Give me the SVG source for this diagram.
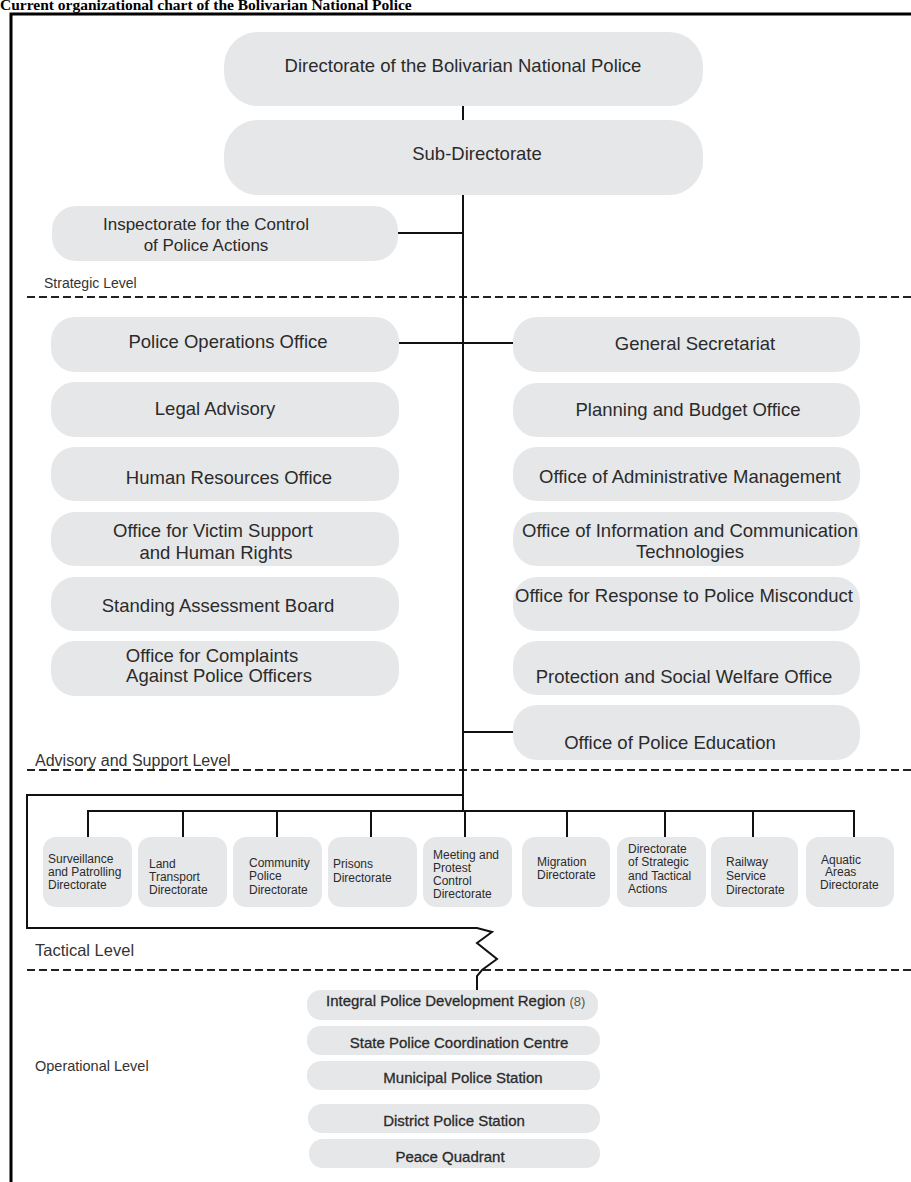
<svg xmlns="http://www.w3.org/2000/svg" width="911" height="1182" viewBox="0 0 911 1182">
<style>
.box{fill:#e6e7e9}
.t{font-family:"Liberation Sans",Arial,sans-serif;fill:#2b2b2b}
.m{font-size:18.5px;text-anchor:middle}
.s{font-size:12px}
.o{font-size:15px;text-anchor:middle;stroke:#2b2b2b;stroke-width:0.3}
.lv{font-family:"Liberation Sans",Arial,sans-serif;fill:#333}
.ln{stroke:#111;stroke-width:2;fill:none}
.dash{stroke:#222;stroke-width:2;stroke-dasharray:8 4;fill:none}
</style>
<rect width="911" height="1182" fill="#fff"/>
<text x="0" y="10" font-family="'Liberation Serif','Times New Roman',serif" font-weight="bold" font-size="15.5" fill="#000">Current organizational chart of the Bolivarian National Police</text>
<rect x="11" y="14" width="940" height="1200" fill="none" stroke="#000" stroke-width="3"/>

<g id="levels">
<text class="lv" x="44" y="288" font-size="14">Strategic Level</text>
<path class="dash" d="M27 297H911"/>
<text class="lv" x="35" y="766" font-size="16">Advisory and Support Level</text>
<path class="dash" d="M27 770H911"/>
<text class="lv" x="35" y="956" font-size="16.5" fill="#222">Tactical Level</text>
<path class="dash" d="M27 970H911"/>
<text class="lv" x="35" y="1071" font-size="14.5">Operational Level</text>
</g>

<g id="connectors">
<path class="ln" d="M463 106V120"/>
<path class="ln" d="M463 195V811"/>
<path class="ln" d="M398 233H463"/>
<path class="ln" d="M399 343H513"/>
<path class="ln" d="M463 732H513"/>
<path class="ln" d="M463 795H27V928H477L492 932L477 943L497 959L482 970L477 976V990"/>
<path class="ln" d="M88 837V811H854V837M183 811V837M277 811V837M371 811V837M465 811V837M567 811V837M665 811V837M753 811V837"/>
</g>

<g id="n-directorate"><rect class="box" x="224" y="32" width="479" height="74" rx="34"/><text class="t m" x="463" y="72">Directorate of the Bolivarian National Police</text></g>
<g id="n-subdirectorate"><rect class="box" x="224" y="120" width="479" height="75" rx="34"/><text class="t m" x="477" y="160">Sub-Directorate</text></g>
<g id="n-inspectorate"><rect class="box" x="52" y="206" width="346" height="55" rx="24"/><text class="t" x="206" y="230" font-size="17" text-anchor="middle">Inspectorate for the Control</text><text class="t" x="206" y="251" font-size="17" text-anchor="middle">of Police Actions</text></g>

<g id="n-police-operations"><rect class="box" x="51" y="317" width="348" height="55" rx="24"/><text class="t m" x="228" y="348">Police Operations Office</text></g>
<g id="n-legal"><rect class="box" x="51" y="382" width="348" height="55" rx="24"/><text class="t m" x="215" y="415">Legal Advisory</text></g>
<g id="n-hr"><rect class="box" x="51" y="447" width="348" height="54" rx="24"/><text class="t m" x="229" y="484">Human Resources Office</text></g>
<g id="n-victim"><rect class="box" x="51" y="512" width="348" height="54" rx="24"/><text class="t m" x="213" y="537">Office for Victim Support</text><text class="t m" x="216" y="559">and Human Rights</text></g>
<g id="n-standing"><rect class="box" x="51" y="577" width="348" height="54" rx="24"/><text class="t m" x="218" y="612">Standing Assessment Board</text></g>
<g id="n-complaints"><rect class="box" x="51" y="641" width="348" height="55" rx="24"/><text class="t m" x="212" y="662">Office for Complaints</text><text class="t m" x="219" y="682">Against Police Officers</text></g>

<g id="n-general-secretariat"><rect class="box" x="513" y="317" width="347" height="55" rx="24"/><text class="t m" x="695" y="350">General Secretariat</text></g>
<g id="n-planning"><rect class="box" x="513" y="383" width="347" height="54" rx="24"/><text class="t m" x="688" y="416">Planning and Budget Office</text></g>
<g id="n-admin"><rect class="box" x="513" y="447" width="347" height="54" rx="24"/><text class="t m" x="690" y="483">Office of Administrative Management</text></g>
<g id="n-ict"><rect class="box" x="513" y="512" width="347" height="54" rx="24"/><text class="t m" x="690" y="537" font-size="18">Office of Information and Communication</text><text class="t m" x="690" y="558">Technologies</text></g>
<g id="n-misconduct"><rect class="box" x="513" y="577" width="347" height="54" rx="24"/><text class="t m" x="684" y="602" font-size="18">Office for Response to Police Misconduct</text></g>
<g id="n-protection"><rect class="box" x="513" y="641" width="347" height="54" rx="24"/><text class="t m" x="684" y="683">Protection and Social Welfare Office</text></g>
<g id="n-education"><rect class="box" x="513" y="705" width="347" height="55" rx="24"/><text class="t m" x="670" y="749">Office of Police Education</text></g>

<g id="n-surveillance"><rect class="box" x="43" y="837" width="89" height="70" rx="13"/><text class="t s"><tspan x="48" y="863">Surveillance</tspan><tspan x="48" y="876">and Patrolling</tspan><tspan x="48" y="889">Directorate</tspan></text></g>
<g id="n-land"><rect class="box" x="138" y="837" width="89" height="70" rx="13"/><text class="t s"><tspan x="149" y="868">Land</tspan><tspan x="149" y="881">Transport</tspan><tspan x="149" y="894">Directorate</tspan></text></g>
<g id="n-community"><rect class="box" x="233" y="837" width="89" height="70" rx="13"/><text class="t s"><tspan x="249" y="867">Community</tspan><tspan x="249" y="880">Police</tspan><tspan x="249" y="894">Directorate</tspan></text></g>
<g id="n-prisons"><rect class="box" x="328" y="837" width="89" height="70" rx="13"/><text class="t s"><tspan x="333" y="868">Prisons</tspan><tspan x="333" y="882">Directorate</tspan></text></g>
<g id="n-meeting"><rect class="box" x="423" y="837" width="89" height="70" rx="13"/><text class="t s"><tspan x="433" y="859">Meeting and</tspan><tspan x="433" y="872">Protest</tspan><tspan x="433" y="885">Control</tspan><tspan x="433" y="898">Directorate</tspan></text></g>
<g id="n-migration"><rect class="box" x="522" y="837" width="88" height="70" rx="13"/><text class="t s"><tspan x="537" y="866">Migration</tspan><tspan x="537" y="879">Directorate</tspan></text></g>
<g id="n-strategic"><rect class="box" x="617" y="837" width="89" height="70" rx="13"/><text class="t s"><tspan x="628" y="853">Directorate</tspan><tspan x="628" y="866">of Strategic</tspan><tspan x="628" y="880">and Tactical</tspan><tspan x="628" y="893">Actions</tspan></text></g>
<g id="n-railway"><rect class="box" x="711" y="837" width="87" height="70" rx="13"/><text class="t s"><tspan x="726" y="866">Railway</tspan><tspan x="726" y="880">Service</tspan><tspan x="726" y="894">Directorate</tspan></text></g>
<g id="n-aquatic"><rect class="box" x="806" y="837" width="88" height="70" rx="13"/><text class="t s"><tspan x="821" y="864">Aquatic</tspan><tspan x="825" y="876">Areas</tspan><tspan x="820" y="889">Directorate</tspan></text></g>

<g id="n-integral"><rect class="box" x="307" y="990" width="291" height="30" rx="14"/><text class="t" x="326" y="1006" font-size="15" stroke="#2b2b2b" stroke-width="0.3">Integral Police Development Region <tspan font-size="13" fill="#555" stroke="none">(8)</tspan></text></g>
<g id="n-state"><rect class="box" x="307" y="1026" width="293" height="29" rx="14"/><text class="t o" x="459" y="1048">State Police Coordination Centre</text></g>
<g id="n-municipal"><rect class="box" x="307" y="1061" width="293" height="29" rx="14"/><text class="t o" x="463" y="1083">Municipal Police Station</text></g>
<g id="n-district"><rect class="box" x="308" y="1104" width="292" height="29" rx="14"/><text class="t o" x="454" y="1126">District Police Station</text></g>
<g id="n-peace"><rect class="box" x="309" y="1139" width="291" height="29" rx="14"/><text class="t o" x="450" y="1162">Peace Quadrant</text></g>
</svg>
